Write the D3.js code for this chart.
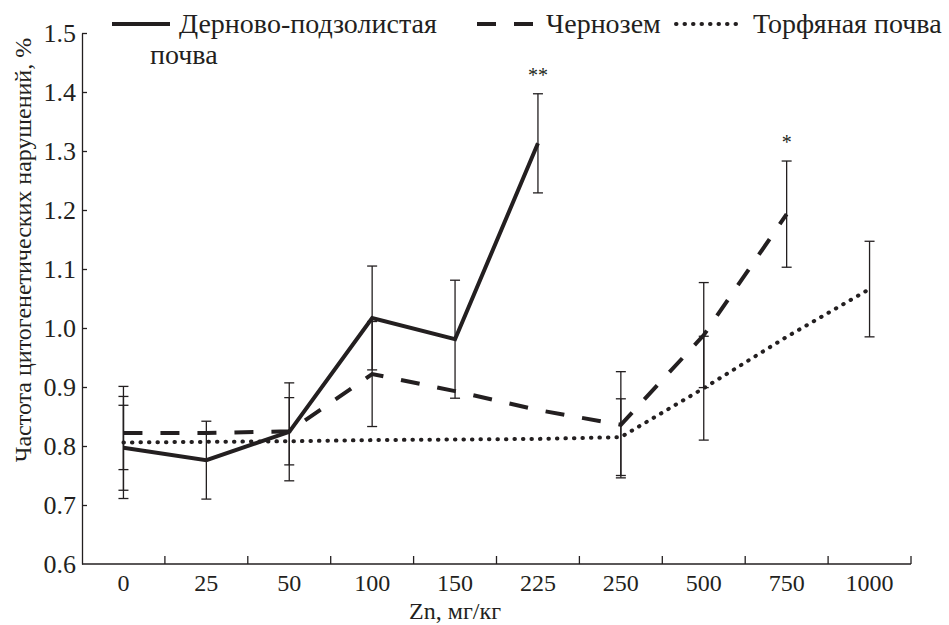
<!DOCTYPE html>
<html>
<head>
    <meta charset="UTF-8">
    <title>Zn</title>
    <style>
        body { margin: 0; background: #fff; }
        svg text { font-family: "Liberation Serif", "Times New Roman", Times, serif !important; fill: #231f20; }
    </style>
</head>
<body>
    <script src="https://cdn.jsdelivr.net/npm/d3@7"></script>
    <script type="text/javascript">
        // данные
        var categories = ["0", "25", "50", "100", "150", "225", "250", "500", "750", "1000"];
        var sodPodzolic = [0.797, 0.776, 0.824, 1.017, 0.981, 1.313, null, null, null, null];
        var sodPodzolicErr = [0.072, 0.066, 0.083, 0.088, 0.100, 0.084, null, null, null, null];
        var chernozem = [0.822, 0.822, 0.825, 0.922, 0.893, 0.861, 0.836, 0.988, 1.193, null];
        var chernozemErr = [0.062, null, 0.057, 0.089, null, null, 0.090, 0.089, 0.090, null];
        var peat = [0.806, 0.807, 0.808, 0.810, 0.811, 0.812, 0.815, 0.898, 0.985, 1.066];
        var peatErr = [0.095, null, null, null, null, null, 0.065, 0.088, null, 0.081];
        var yTicks = [0.6, 0.7, 0.8, 0.9, 1.0, 1.1, 1.2, 1.3, 1.4, 1.5];
        var stars = [{cat: "225", text: "**", top: 1.396}, {cat: "750", text: "*", top: 1.283}];

        var width = 949, height = 625;
        var font = "Liberation Serif, Times New Roman, serif";
        var svg = d3.select("body").append("svg")
            .attr("width", width)
            .attr("height", height)
            .attr("font-family", font);

        var x = d3.scaleBand().domain(categories).range([82, 911]);
        var y = d3.scaleLinear().domain([0.6, 1.5]).range([564, 33]);
        var cx = function(c) { return x(c) + x.bandwidth() / 2; };

        //ось Y
        var yAxis = svg.append("g")
            .attr("transform", "translate(82,0)")
            .call(d3.axisLeft(y).tickValues(yTicks).tickFormat(d3.format(".1f"))
                .tickSizeInner(-5).tickSizeOuter(0).tickPadding(6));
        yAxis.attr("font-family", font);
        yAxis.select(".domain").attr("stroke", "#231f20").attr("stroke-width", 1.3);
        yAxis.selectAll(".tick line").attr("stroke", "#231f20").attr("stroke-width", 1.3)
            .filter(function(d) { return d === 0.6; }).remove();
        yAxis.selectAll("text").attr("font-size", 26).attr("fill", "#231f20");

        //ось X
        var xAxis = svg.append("g")
            .attr("transform", "translate(0,564)")
            .call(d3.axisBottom(x).tickSize(0).tickPadding(10));
        xAxis.attr("font-family", font);
        xAxis.select(".domain").remove();
        xAxis.selectAll("text").attr("font-size", 24).attr("fill", "#231f20");
        svg.append("line")
            .attr("x1", 82).attr("x2", 911).attr("y1", 564).attr("y2", 564)
            .attr("stroke", "#231f20").attr("stroke-width", 1.3);
        svg.selectAll(".xtick")
            .data(categories)
            .enter().append("line")
            .attr("class", "xtick")
            .attr("x1", function(d) { return x(d) + x.bandwidth(); })
            .attr("x2", function(d) { return x(d) + x.bandwidth(); })
            .attr("y1", 564).attr("y2", 556)
            .attr("stroke", "#231f20").attr("stroke-width", 1.3);

        //подписи осей
        svg.append("text")
            .attr("x", cx("150")).attr("y", 619)
            .attr("text-anchor", "middle")
            .attr("font-size", 24)
            .text("Zn, мг/кг");
        svg.append("text")
            .attr("transform", "translate(31,250) rotate(-90)")
            .attr("text-anchor", "middle")
            .attr("font-size", 24)
            .text("Частота цитогенетических нарушений, %");

        var series = [
            {values: sodPodzolic, err: sodPodzolicErr, dash: null, cap: "butt"},
            {values: chernozem, err: chernozemErr, dash: "19,18", cap: "butt"},
            {values: peat, err: peatErr, dash: "0.5,8", cap: "round"}
        ];

        //планки погрешностей
        series.forEach(function(s) {
            s.values.forEach(function(v, i) {
                if (v == null || s.err[i] == null) return;
                var px = cx(categories[i]);
                var y1 = y(v + s.err[i]), y2 = y(v - s.err[i]);
                var g = svg.append("g").attr("stroke", "#231f20").attr("stroke-width", 1.3);
                g.append("line").attr("x1", px).attr("x2", px).attr("y1", y1).attr("y2", y2);
                g.append("line").attr("x1", px - 5).attr("x2", px + 5).attr("y1", y1).attr("y2", y1);
                g.append("line").attr("x1", px - 5).attr("x2", px + 5).attr("y1", y2).attr("y2", y2);
            });
        });

        //линии
        var line = d3.line()
            .defined(function(d) { return d.v != null; })
            .x(function(d) { return cx(d.c); })
            .y(function(d) { return y(d.v); });
        series.forEach(function(s) {
            var pts = s.values.map(function(v, i) { return {c: categories[i], v: v}; });
            svg.append("path")
                .datum(pts)
                .attr("d", line)
                .attr("fill", "none")
                .attr("stroke", "#231f20")
                .attr("stroke-width", 4)
                .attr("stroke-linecap", s.cap)
                .attr("stroke-dasharray", s.dash);
        });

        //звёздочки
        svg.selectAll(".star")
            .data(stars)
            .enter().append("text")
            .attr("x", function(d) { return cx(d.cat); })
            .attr("y", function(d) { return y(d.top) - 12; })
            .attr("text-anchor", "middle")
            .attr("font-size", 20)
            .text(function(d) { return d.text; });

        //легенда
        var legend = [
            {x1: 112, x2: 170, tx: 179, label: "Дерново-подзолистая", dash: null, cap: "butt"},
            {x1: 477, x2: 535, tx: 546, label: "Чернозем", dash: "19,18", cap: "butt"},
            {x1: 676, x2: 740, tx: 753, label: "Торфяная почва", dash: "0.5,8", cap: "round"}
        ];
        legend.forEach(function(l) {
            svg.append("line")
                .attr("x1", l.x1).attr("x2", l.x2).attr("y1", 24).attr("y2", 24)
                .attr("stroke", "#231f20").attr("stroke-width", 4)
                .attr("stroke-linecap", l.cap)
                .attr("stroke-dasharray", l.dash);
            svg.append("text")
                .attr("x", l.tx).attr("y", 33)
                .attr("font-size", 28)
                .text(l.label);
        });
        svg.append("text")
            .attr("x", 150).attr("y", 64)
            .attr("font-size", 28)
            .text("почва");
    </script>
</body>
</html>
